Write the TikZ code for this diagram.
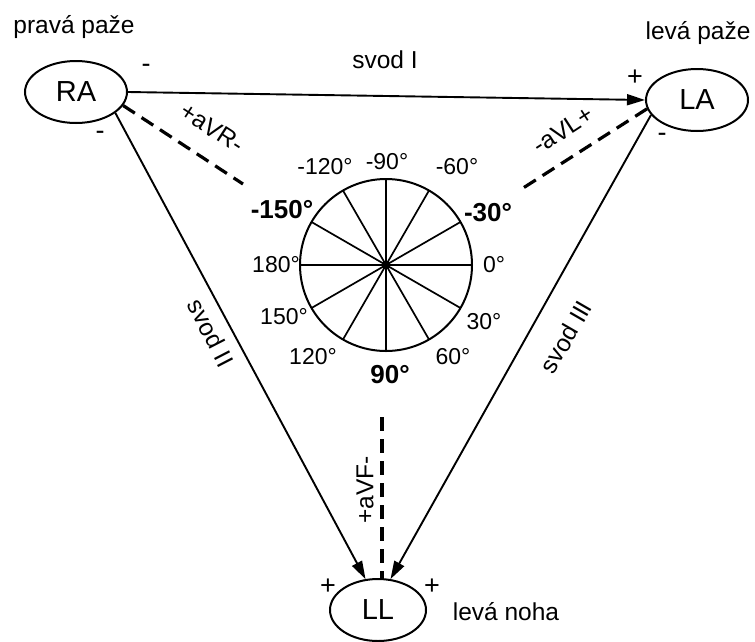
\documentclass[tikz,border=0pt]{standalone}
\usepackage{fontspec}
\setmainfont{Liberation Sans}
\usetikzlibrary{arrows.meta,shapes.geometric}
\begin{document}
\begin{tikzpicture}[x=1pt,y=-1pt,
  lbl/.style={font=\fontsize{24.5}{26}\selectfont, inner sep=0pt},
  deg/.style={font=\fontsize{23}{25}\selectfont, inner sep=0pt},
  degb/.style={font=\fontsize{26}{28}\selectfont\bfseries, inner sep=0pt},
  elec/.style={ellipse, draw, line width=2pt, minimum width=102pt, minimum height=62pt, font=\fontsize{29}{31}\selectfont, inner sep=0pt},
  lead/.style={line width=1.9pt, -{Triangle[length=18pt,width=11pt]}},
  aug/.style={line width=3.2pt, dash pattern=on 14pt off 8pt},
  sign/.style={font=\fontsize{27}{28}\selectfont, inner sep=0pt}]
\useasboundingbox (0,0) rectangle (755,641);
% electrodes
\node[elec] (RA) at (76,92) {RA};
\node[elec] (LA) at (697,100) {LA};
\node[elec, minimum width=96pt, minimum height=62pt] (LL) at (378,610) {LL};
\node[lbl] (tRA) at (74,27) {pravá paže};
\node[lbl] (tLA) at (698,33) {levá paže};
\node[lbl] (tLL) at (506,612) {levá noha};
% leads
\draw[lead] (RA.east) -- (LA.west);
\draw[lead] (RA.-28) -- (LL.112);
\draw[lead] (LA.198) -- (LL.68);
\node[lbl] (sI) at (385,60) {svod I};
\node[lbl, rotate=-62.7] (sII) at (211,333) {svod II};
\node[lbl, rotate=60] (sIII) at (566,337) {svod III};
% signs
\node[sign] (m1) at (146,68) {-};
\node[sign] (m2) at (100,135) {-};
\node[sign] (p1) at (635,78) {+};
\node[sign] (m3) at (662,137) {-};
\node[sign] (p2) at (328,587) {+};
\node[sign] (p3) at (432,587) {+};
% augmented leads
\coordinate (aR) at (243,184);
\coordinate (aL) at (520,190);
\coordinate (aF) at (382,417);
\draw[aug] (RA.-16) -- (aR);
\draw[aug] (LA.190) -- (aL);
\draw[aug] (aF) -- ([xshift=4pt]LL.north);
\node[lbl, rotate=-33] (tR) at (212,128) {+aVR-};
\node[lbl, rotate=33] (tL) at (563,130) {-aVL+};
\node[lbl, rotate=90] (tF) at (365,490) {+aVF-};
% hexaxial circle
\node[circle, fill, inner sep=0pt, minimum size=8pt] (C) at (386,265) {};
\draw[line width=2pt] (C.center) circle[radius=86pt];
\foreach \a in {0,30,...,330} \draw[line width=1.7pt] (C.center) -- ++(\a:86pt);
\node[deg] (d1) at (387,162) {-90°};
\node[deg] (d2) at (325,167) {-120°};
\node[deg] (d3) at (457,167) {-60°};
\node[degb] (d4) at (282,210) {-150°};
\node[degb] (d5) at (488,213) {-30°};
\node[deg] (d6) at (276,265) {180°};
\node[deg] (d7) at (494,265) {0°};
\node[deg] (d8) at (284,317) {150°};
\node[deg] (d9) at (484,322) {30°};
\node[deg] (d10) at (313,357) {120°};
\node[deg] (d11) at (453,357) {60°};
\node[degb] (d12) at (390,375) {90°};
\end{tikzpicture}
\end{document}
